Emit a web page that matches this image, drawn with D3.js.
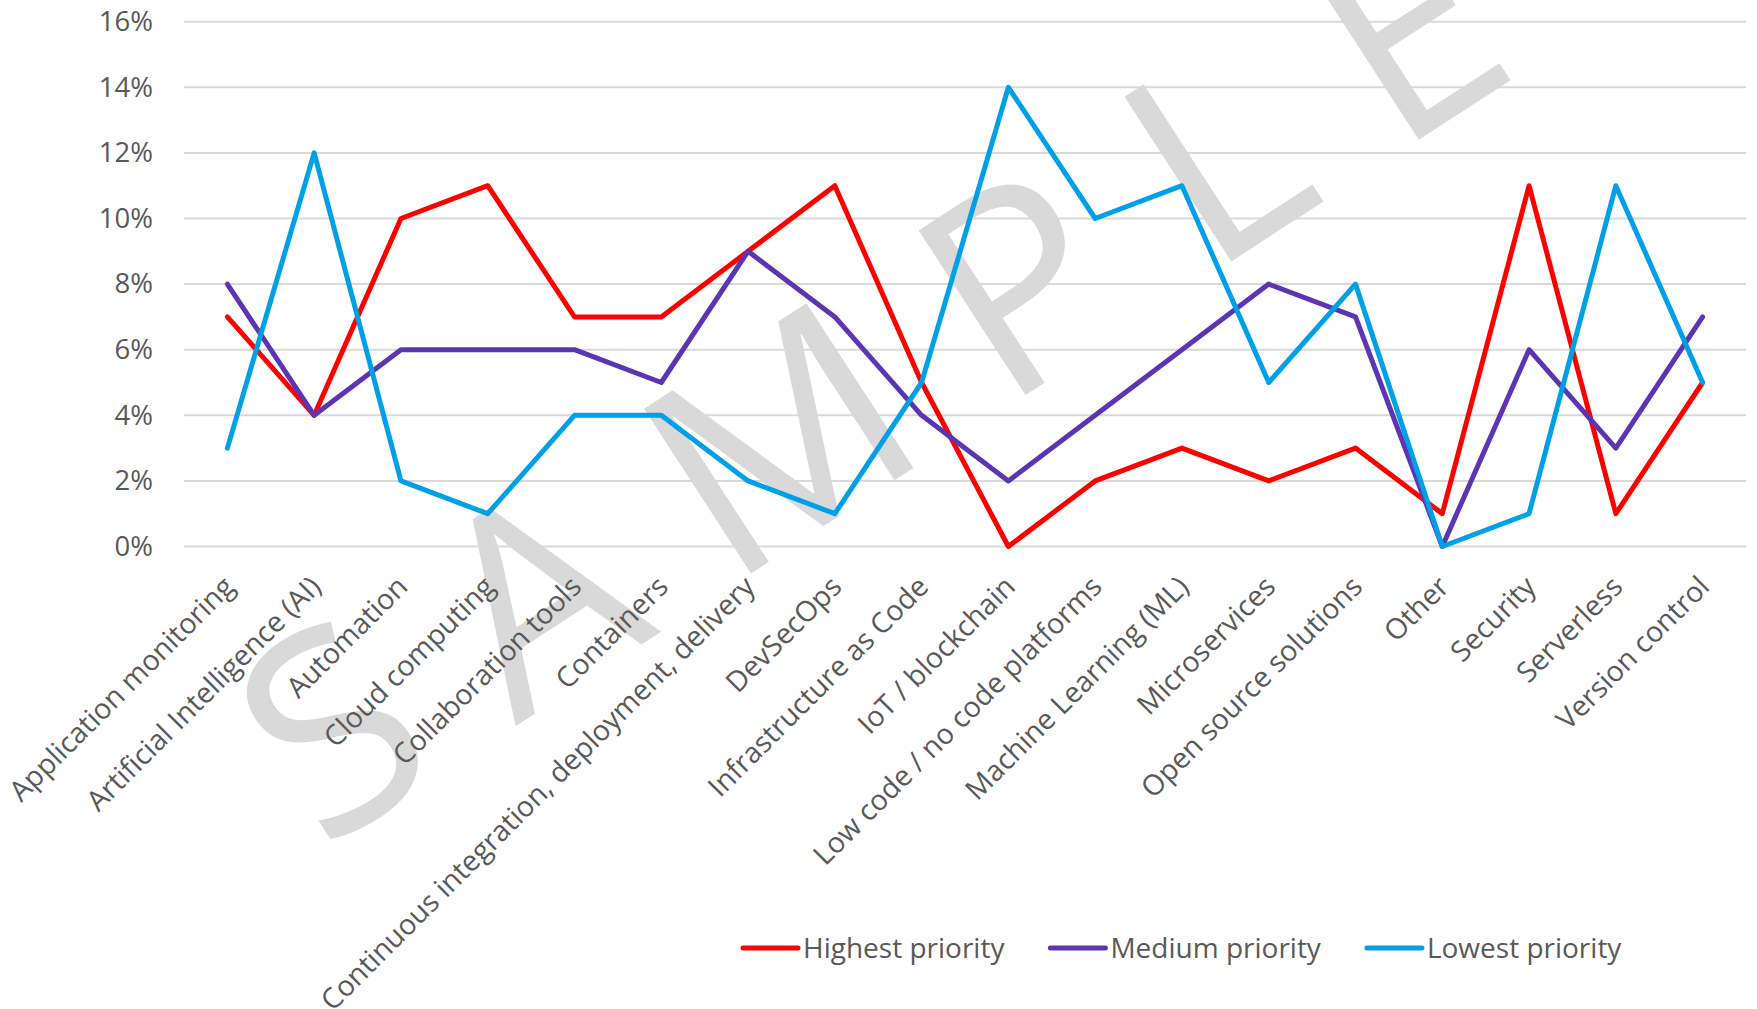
<!DOCTYPE html>
<html>
<head>
<meta charset="utf-8">
<script src="https://cdn.jsdelivr.net/npm/d3@7"></script>
<style>
  body { margin: 0; background: #fff; }
  text { font-family: "Open Sans", "Noto Sans", sans-serif; fill: #595959; }
</style>
</head>
<body>
<script>
// categories along the x axis
var categories = [
  "Application monitoring",
  "Artificial Intelligence (AI)",
  "Automation",
  "Cloud computing",
  "Collaboration tools",
  "Containers",
  "Continuous integration, deployment,  delivery",
  "DevSecOps",
  "Infrastructure as Code",
  "IoT / blockchain",
  "Low code / no code platforms",
  "Machine Learning (ML)",
  "Microservices",
  "Open source solutions",
  "Other",
  "Security",
  "Serverless",
  "Version control"
];

// series values (share of respondents)
var highest = [0.07, 0.04, 0.10, 0.11, 0.07, 0.07, 0.09, 0.11, 0.05, 0.00, 0.02, 0.03, 0.02, 0.03, 0.01, 0.11, 0.01, 0.05];
var medium  = [0.08, 0.04, 0.06, 0.06, 0.06, 0.05, 0.09, 0.07, 0.04, 0.02, 0.04, 0.06, 0.08, 0.07, 0.00, 0.06, 0.03, 0.07];
var lowest  = [0.03, 0.12, 0.02, 0.01, 0.04, 0.04, 0.02, 0.01, 0.05, 0.14, 0.10, 0.11, 0.05, 0.08, 0.00, 0.01, 0.11, 0.05];

var seriesNames = ["Highest priority", "Medium priority", "Lowest priority"];
var seriesColors = ["#FF0000", "#5C35B3", "#00A0E6"];
var yTicks = [0, 0.02, 0.04, 0.06, 0.08, 0.10, 0.12, 0.14, 0.16];

var svgWidth = 1757;
var svgHeight = 1009;

var plot = { left: 184, right: 1746, top: 21.7, bottom: 546.5 };

var svg = d3.select("body")
  .append("svg")
  .attr("width", svgWidth)
  .attr("height", svgHeight);

// scales
var xScale = d3.scalePoint()
  .domain(categories)
  .range([plot.left, plot.right])
  .padding(0.5);

var yScale = d3.scaleLinear()
  .domain([0, 0.16])
  .range([plot.bottom, plot.top]);

// gridlines
svg.append("g")
  .selectAll("line")
  .data(yTicks)
  .enter()
  .append("line")
  .attr("x1", plot.left)
  .attr("x2", plot.right)
  .attr("y1", function(d) { return yScale(d); })
  .attr("y2", function(d) { return yScale(d); })
  .attr("stroke", "#D9D9D9")
  .attr("stroke-width", 2);

// y axis labels
var leftAxis = d3.axisLeft(yScale)
  .tickValues(yTicks)
  .tickFormat(d3.format(".0%"))
  .tickSize(0)
  .tickPadding(0);

var yAxisG = svg.append("g")
  .attr("transform", "translate(153,0)")
  .call(leftAxis);
yAxisG.select(".domain").remove();
yAxisG.selectAll("text")
  .attr("font-size", 27.5)
  .attr("font-family", "Open Sans")
  .attr("fill", "#595959");

// watermark
svg.append("text")
  .attr("transform", "translate(322,852) rotate(-33)")
  .attr("font-size", 275)
  .attr("letter-spacing", 80)
  .style("fill", "#D9D9D9")
  .text("SAMPLE");

// lines
var line = d3.line()
  .x(function(d, i) { return xScale(categories[i]); })
  .y(function(d) { return yScale(d); });

var allSeries = [highest, medium, lowest];
svg.append("g")
  .selectAll("path")
  .data(allSeries)
  .enter()
  .append("path")
  .attr("d", line)
  .attr("fill", "none")
  .attr("stroke", function(d, i) { return seriesColors[i]; })
  .attr("stroke-width", 5)
  .attr("stroke-linejoin", "round")
  .attr("stroke-linecap", "round");

// x axis labels, rotated
var bottomAxis = d3.axisBottom(xScale).tickSize(0).tickPadding(0);
var xAxisG = svg.append("g")
  .attr("transform", "translate(0," + plot.bottom + ")")
  .call(bottomAxis);
xAxisG.select(".domain").remove();
xAxisG.selectAll("text")
  .attr("font-size", 28.5)
  .attr("font-family", "Open Sans")
  .attr("fill", "#595959")
  .attr("text-anchor", "end")
  .attr("dy", null)
  .attr("y", 0)
  .attr("transform", "translate(8,42) rotate(-45)");

// legend
var legend = svg.append("g").attr("transform", "translate(743,948)");
var legendX = 0;
seriesNames.forEach(function(name, i) {
  var item = legend.append("g").attr("transform", "translate(" + legendX + ",0)");
  item.append("line")
    .attr("x1", 0).attr("x2", 55)
    .attr("y1", 0).attr("y2", 0)
    .attr("stroke", seriesColors[i])
    .attr("stroke-width", 5)
    .attr("stroke-linecap", "round");
  var t = item.append("text")
    .attr("x", 60)
    .attr("y", 10)
    .attr("font-size", 28)
    .text(name);
  legendX += 60 + t.node().getComputedTextLength() + 46;
});
</script>
</body>
</html>
